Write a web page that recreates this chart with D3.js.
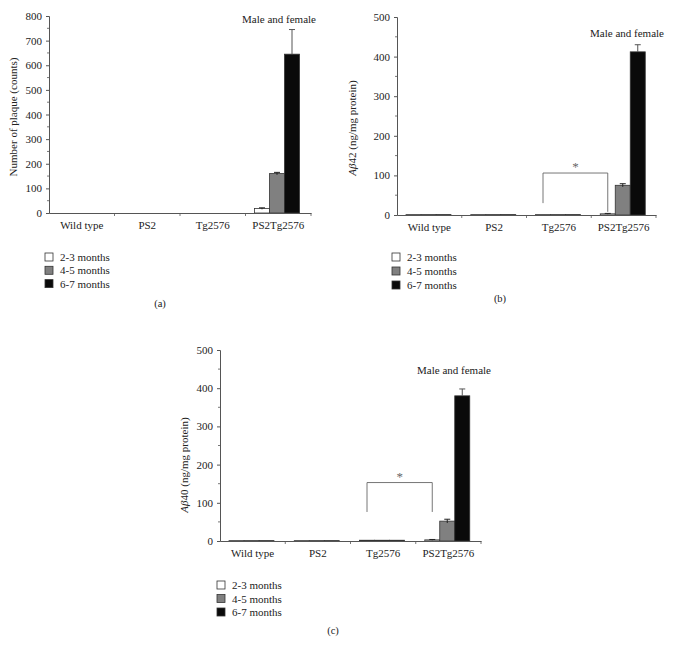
<!doctype html>
<html>
<head>
<script src="https://d3js.org/d3.v7.min.js"></script>
<style>
  body { margin: 0; background: #fff; }
  text { font-family: "Liberation Serif", "DejaVu Serif", serif; fill: #222; }
</style>
</head>
<body>
<svg width="681" height="647"></svg>
<script>
// data
var categories = ["Wild type", "PS2", "Tg2576", "PS2Tg2576"];
var series = ["2-3 months", "4-5 months", "6-7 months"];
var colors = ["#ffffff", "#808080", "#0a0a0a"];

// (a) number of plaque
var plaque23 = [0, 0, 0, 18], plaque23Err = [0, 0, 0, 3];
var plaque45 = [0, 0, 0, 160], plaque45Err = [0, 0, 0, 5];
var plaque67 = [0, 0, 0, 645], plaque67Err = [0, 0, 0, 100];

// (b) Abeta42
var ab42_23 = [1, 1, 1, 3], ab42_23Err = [0, 0, 0, 1];
var ab42_45 = [1, 1, 1, 75], ab42_45Err = [0, 0, 0, 4];
var ab42_67 = [1, 1, 1, 412], ab42_67Err = [0, 0, 0, 18];

// (c) Abeta40
var ab40_23 = [1, 1, 2, 3], ab40_23Err = [0, 0, 0, 1];
var ab40_45 = [1, 1, 2, 52], ab40_45Err = [0, 0, 0, 5];
var ab40_67 = [1, 1, 2, 380], ab40_67Err = [0, 0, 0, 18];

var svg = d3.select("svg");

function drawPanel(p) {
    var g = svg.append("g");
    var x = d3.scaleBand().domain(categories).range([p.x0, p.x1]);
    var x1 = d3.scaleBand().domain(series).range([9, 54]);
    var y = d3.scaleLinear().domain([0, p.max]).range([p.y1, p.y0]);

    // minor ticks every 50
    var minor = d3.range(50, p.max, 100);
    g.selectAll(".minor").data(minor).enter().append("line")
        .attr("x1", p.x0 - 2).attr("x2", p.x0)
        .attr("y1", d => y(d)).attr("y2", d => y(d))
        .attr("stroke", "#555").attr("stroke-width", 0.8);

    // bars
    p.vals.forEach(function(vals, si) {
        g.selectAll(".bar" + si).data(categories).enter().append("rect")
            .attr("x", d => x(d) + x1(series[si]))
            .attr("width", x1.bandwidth())
            .attr("y", (d, i) => y(vals[i]))
            .attr("height", (d, i) => p.y1 - y(vals[i]))
            .attr("fill", colors[si])
            .attr("stroke", vals.some(v => v > 0) ? "#333" : "none")
            .attr("stroke-width", 0.8);
        // error bars (upper only)
        var errs = p.errs[si];
        categories.forEach(function(c, i) {
            if (!errs[i]) return;
            var cx = x(c) + x1(series[si]) + x1.bandwidth() / 2;
            var col = si == 2 ? "#555" : "#222";
            g.append("line").attr("x1", cx).attr("x2", cx)
                .attr("y1", y(vals[i] - (si == 2 ? 0 : errs[i]))).attr("y2", y(vals[i] + errs[i]))
                .attr("stroke", col).attr("stroke-width", 1);
            g.append("line").attr("x1", cx - 3).attr("x2", cx + 3)
                .attr("y1", y(vals[i] + errs[i])).attr("y2", y(vals[i] + errs[i]))
                .attr("stroke", col).attr("stroke-width", 1);
        });
    });

    // axes
    var ya = g.append("g").attr("transform", "translate(" + p.x0 + ",0)")
        .call(d3.axisLeft(y).tickValues(d3.range(0, p.max + 1, 100)).tickSize(3).tickPadding(4));
    ya.select(".domain").attr("stroke", "#555");
    ya.selectAll(".tick line").attr("stroke", "#555");
    ya.selectAll("text").style("font-size", "11px").style("font-family", "Liberation Serif");

    var xa = g.append("g").attr("transform", "translate(0," + p.y1 + ")")
        .call(d3.axisBottom(x).tickSize(0).tickPadding(8));
    xa.select(".domain").attr("stroke", "#555");
    xa.selectAll("text").style("font-size", "11px").style("font-family", "Liberation Serif");
    // category separators
    g.selectAll(".sep").data(categories).enter().append("line")
        .attr("x1", d => x(d) + x.bandwidth())
        .attr("x2", d => x(d) + x.bandwidth())
        .attr("y1", p.y1).attr("y2", p.y1 + 3)
        .attr("stroke", "#555").attr("stroke-width", 0.8);

    // y label
    var yl = g.append("text")
        .attr("transform", "translate(" + p.ylx + "," + p.yly + ")rotate(-90)")
        .attr("text-anchor", "middle").style("font-size", "11px");
    if (p.ylItalic) {
        yl.append("tspan").style("font-style", "italic").text(p.ylItalic);
    }
    yl.append("tspan").text(p.ylabel);

    // note
    g.append("text").attr("x", p.noteX).attr("y", p.noteY)
        .attr("text-anchor", "middle").style("font-size", "11px").text("Male and female");

    // significance bracket
    if (p.bracket) {
        var b = p.bracket;
        var bx0 = x(b.from) + x1(series[0]) + x1.bandwidth() / 2;
        var bx1 = x(b.to) + x1(series[0]) + x1.bandwidth() / 2;
        g.append("path")
            .attr("d", "M" + bx0 + "," + y(b.left) + "V" + y(b.top) + "H" + bx1 + "V" + y(b.right))
            .attr("fill", "none").attr("stroke", "#666").attr("stroke-width", 0.9);
        g.append("text").attr("x", (bx0 + bx1) / 2).attr("y", y(b.top) - 2)
            .attr("text-anchor", "middle").style("font-size", "13px").style("fill", "#666").text("*");
    }

    // legend
    series.forEach(function(s, i) {
        var ly = p.legY + i * p.legStep;
        g.append("rect").attr("x", p.legX).attr("y", ly - 4).attr("width", 8).attr("height", 8)
            .attr("fill", colors[i]).attr("stroke", "#333").attr("stroke-width", 0.8);
        g.append("text").attr("x", p.legX + 15).attr("y", ly + 4)
            .style("font-size", "11px").text(s);
    });

    // caption
    g.append("text").attr("x", p.capX).attr("y", p.capY)
        .attr("text-anchor", "middle").style("font-size", "10.5px").text(p.caption);
}

drawPanel({
    x0: 49, x1: 311, y0: 16, y1: 213, max: 800,
    vals: [plaque23, plaque45, plaque67], errs: [plaque23Err, plaque45Err, plaque67Err],
    ylabel: "Number of plaque (counts)", ylx: 17, yly: 117,
    noteX: 279, noteY: 23,
    legX: 45, legY: 257, legStep: 13.3,
    capX: 160, capY: 307, caption: "(a)"
});

drawPanel({
    x0: 397, x1: 656, y0: 17, y1: 215, max: 500,
    vals: [ab42_23, ab42_45, ab42_67], errs: [ab42_23Err, ab42_45Err, ab42_67Err],
    ylItalic: "Aβ", ylabel: "42 (ng/mg protein)", ylx: 356, yly: 128,
    noteX: 627, noteY: 37,
    bracket: { from: "Tg2576", to: "PS2Tg2576", top: 106, left: 30, right: 8 },
    legX: 392, legY: 257, legStep: 14,
    capX: 500, capY: 302, caption: "(b)"
});

drawPanel({
    x0: 220, x1: 481, y0: 350, y1: 541, max: 500,
    vals: [ab40_23, ab40_45, ab40_67], errs: [ab40_23Err, ab40_45Err, ab40_67Err],
    ylItalic: "Aβ", ylabel: "40 (ng/mg protein)", ylx: 188, yly: 465,
    noteX: 454, noteY: 374,
    bracket: { from: "Tg2576", to: "PS2Tg2576", top: 153, left: 76, right: 76 },
    legX: 217, legY: 585, legStep: 13.5,
    capX: 333, capY: 634, caption: "(c)"
});
</script>
</body>
</html>
